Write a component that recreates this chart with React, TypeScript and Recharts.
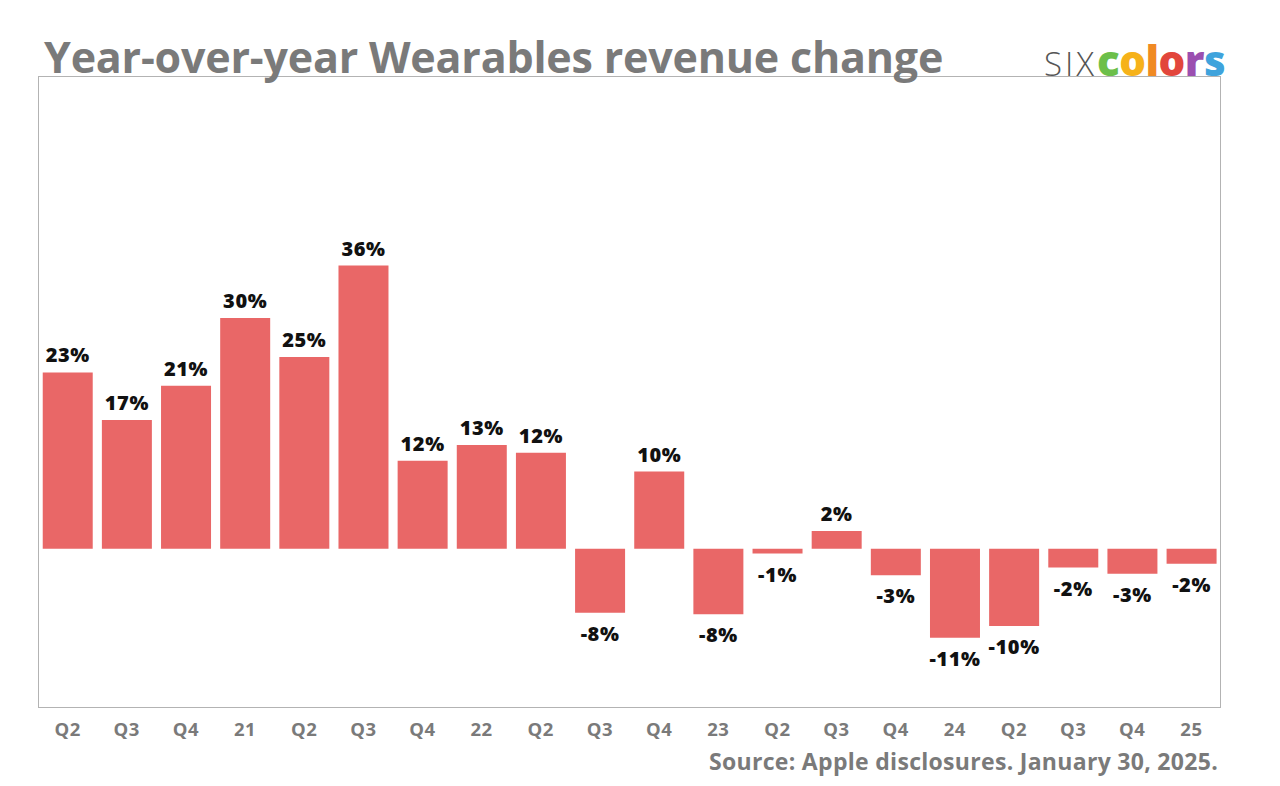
import React from "react";
import { BarChart, Bar, XAxis, YAxis, LabelList, Cell } from "recharts";

const categories = ["Q2", "Q3", "Q4", "21", "Q2", "Q3", "Q4", "22", "Q2", "Q3", "Q4", "23", "Q2", "Q3", "Q4", "24", "Q2", "Q3", "Q4", "25"];
const changes = [22.6, 16.5, 20.9, 29.6, 24.6, 36.3, 11.3, 13.3, 12.3, -8.2, 9.9, -8.4, -0.6, 2.3, -3.4, -11.4, -9.9, -2.4, -3.2, -1.9];
const labels = ["23%", "17%", "21%", "30%", "25%", "36%", "12%", "13%", "12%", "-8%", "10%", "-8%", "-1%", "2%", "-3%", "-11%", "-10%", "-2%", "-3%", "-2%"];

const data = categories.map((c, i) => ({ key: i, cat: c, value: changes[i], label: labels[i] }));

const FONT = "'Open Sans', 'DejaVu Sans', sans-serif";
const BAR = "#e96767";
const GRAY = "#7a7a7a";

const Tick = (props: any) => {
  const { x, y, payload } = props;
  return (
    <text x={x} y={y + 28} textAnchor="middle" fontFamily={FONT} fontWeight={700} fontSize={18.5} letterSpacing={0.5} fill={GRAY}>
      {categories[payload.value]}
    </text>
  );
};

const ValueLabel = (props: any) => {
  const { x, y, width, height, index } = props;
  const top = Math.min(y, y + height);
  const bottom = Math.max(y, y + height);
  const v = changes[index];
  const ty = v >= 0 ? top - 10 : bottom + 28;
  return (
    <text x={x + width / 2} y={ty} textAnchor="middle" fontFamily={FONT} fontWeight={800} fontSize={20} letterSpacing={0.6} fill="#111">
      {labels[index]}
    </text>
  );
};

export default function App() {
  return (
    <div style={{ position: "relative", width: 1264, height: 778, background: "#fff", fontFamily: FONT }}>
      <div
        style={{
          position: "absolute",
          left: 30,
          top: 68,
          width: 1183,
          height: 632,
          border: "1.5px solid #b3b3b3",
          boxSizing: "border-box",
        }}
      />
      <div
        style={{
          position: "absolute",
          left: 36,
          top: 19,
          fontSize: 43,
          fontWeight: 700,
          color: GRAY,
          whiteSpace: "nowrap",
          lineHeight: "60px",
          letterSpacing: -0.2,
        }}
      >
        Year-over-year Wearables revenue change
      </div>
      <div style={{ position: "absolute", left: 1036, top: 26, whiteSpace: "nowrap", lineHeight: "52px" }}>
        <span style={{ fontSize: 33, fontWeight: 300, color: "#555", letterSpacing: 3 }}>SIX</span>
        <span style={{ fontSize: 42, fontWeight: 800, letterSpacing: -0.5 }}>
          <span style={{ color: "#6cbf4a" }}>c</span>
          <span style={{ color: "#f6b21a" }}>o</span>
          <span style={{ color: "#f08a24" }}>l</span>
          <span style={{ color: "#e2463c" }}>o</span>
          <span style={{ color: "#9b4fb0" }}>r</span>
          <span style={{ color: "#3fa3dc" }}>s</span>
        </span>
      </div>
      <div style={{ position: "absolute", left: 0, top: 0 }}>
        <BarChart
          width={1250}
          height={760}
          data={data}
          margin={{ top: 68, right: 37, left: 30, bottom: 30 }}
          barCategoryGap="8%"
        >
          <XAxis dataKey="key" height={30} axisLine={false} tickLine={false} tickSize={0} tickMargin={0} tick={<Tick />} interval={0} />
          <YAxis hide domain={[-20.4, 60.6]} allowDataOverflow />
          <Bar dataKey="value" fill={BAR} isAnimationActive={false}>
            {data.map((d) => (
              <Cell key={d.key} fill={BAR} />
            ))}
            <LabelList dataKey="label" content={<ValueLabel />} />
          </Bar>
        </BarChart>
      </div>
      <div
        style={{
          position: "absolute",
          right: 54,
          top: 738,
          fontSize: 23,
          fontWeight: 700,
          color: GRAY,
          whiteSpace: "nowrap",
          lineHeight: "30px",
          letterSpacing: 0.3,
        }}
      >
        Source: Apple disclosures. January 30, 2025.
      </div>
    </div>
  );
}
